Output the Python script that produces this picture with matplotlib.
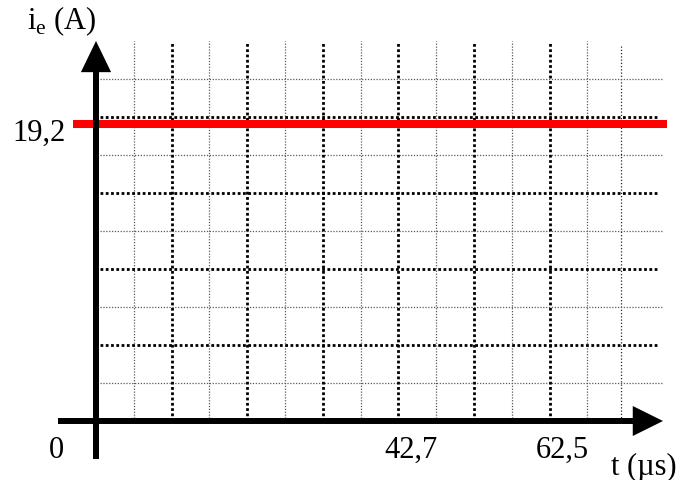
import matplotlib
matplotlib.use("Agg")
import matplotlib.pyplot as plt
import numpy as np

# ---- data ----
ie_value = 19.2                 # A, constant current
ie_label = "19,2"
t_tick_labels = ["0", "42,7", "62,5"]
t_tick_divs = [0, 8, 12]        # grid divisions where the time marks sit
amps_per_div = 2.457            # vertical scale of the sketch (A per division)
t_span_divs = [-0.6, 15.1]      # horizontal extent of the current trace

# ---- figure / coordinate system (grid divisions) ----
W, H = 696, 481
fig = plt.figure(figsize=(W / 100, H / 100), dpi=100)
ax = fig.add_axes([0, 0, 1, 1])
x0, y0 = 96, 422            # origin in pixels (from top-left)
sx, sy = 37.8, 38.0         # px per division
ax.set_xlim(-x0 / sx, (W - x0) / sx)
ax.set_ylim((y0 - H) / sy, y0 / sy)
ax.axis("off")

plt.rcParams["mathtext.fontset"] = "custom"
plt.rcParams["mathtext.rm"] = "Liberation Serif"
serif = "Liberation Serif"

def px_x(p):
    return (p - x0) / sx

def px_y(p):
    return (y0 - p) / sy

# ---- grid ----
grid_top = 10.0
grid_right = 15.0
major_kw = dict(color="black", lw=2.0, dashes=(1, 0.9), dash_capstyle="butt", zorder=2)
minor_kw = dict(color="0.35", lw=0.9, dashes=(1, 1.3), dash_capstyle="butt", zorder=1)

for d in [1, 3, 5, 7, 9, 11, 13]:
    ax.plot([d, d], [0, grid_top], **minor_kw)
ax.plot([13.9, 13.9], [0, 9.9], color="0.15", lw=0.9, dashes=(1, 1.6), zorder=1)
for d in [2, 4, 6, 8, 10, 12]:
    ax.plot([d, d], [0, grid_top], **major_kw)
for d in [1, 3, 5, 7, 9]:
    ax.plot([0.1, grid_right], [d, d], **minor_kw)
for d in [2, 4, 6, 8]:
    ax.plot([0.1, grid_right - 0.1], [d, d], **major_kw)

# ---- current trace ----
y_ie = ie_value / amps_per_div
ax.plot(t_span_divs, [y_ie, y_ie], color="#ff0000", lw=5.8, solid_capstyle="butt", zorder=4)

# ---- axes with arrows ----
ax_lw = 4.3
ax.plot([0, 0], [-1.0, 9.3], color="black", lw=ax_lw, solid_capstyle="butt", zorder=5)
ax.plot([-1.0, 14.3], [0, 0], color="black", lw=ax_lw, solid_capstyle="butt", zorder=5)
ax.fill([-0.40, 0.40, 0], [9.18, 9.18, 10.0], color="black", lw=0, zorder=6)
ax.fill([14.2, 14.2, 15.0], [-0.395, 0.395, 0], color="black", lw=0, zorder=6)

# ---- texts ----
fs = 22
ax.text(px_x(66), px_y(141), ie_label, fontsize=fs, family=serif,
        ha="right", va="baseline")
ax.text(px_x(27), px_y(29), r"i$_\mathrm{e}$ (A)", fontsize=fs, family=serif,
        ha="left", va="baseline")
offsets_px = [-40, 13, 13]
for lab, d, off in zip(t_tick_labels, t_tick_divs, offsets_px):
    ax.text(d + off / sx, px_y(458), lab, fontsize=fs, family=serif,
            ha="center", va="baseline")
ax.text(px_x(611), px_y(475), "t (µs)", fontsize=fs, family=serif,
        ha="left", va="baseline")

fig.savefig("out.png", dpi=100)
